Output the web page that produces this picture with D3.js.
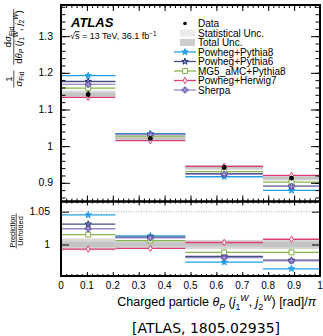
<!DOCTYPE html>
<html>
<head>
<meta charset="utf-8">
<script src="https://cdn.jsdelivr.net/npm/d3@7"></script>
<style>
body { margin: 0; background: #fff; }
text { font-family: "Liberation Sans", Arial, sans-serif; fill: #000; }
</style>
</head>
<body>
<div id="chart"></div>
<script>
// bins of theta_P / pi
var binEdges = [0, 0.21, 0.48, 0.78, 1];
// unfolded data, normalised
var dataValues = [1.141, 1.021, 0.942, 0.913];
// relative uncertainties of the data
var statUnc = [0.004, 0.003, 0.003, 0.004];
var totalUnc = [0.009, 0.006, 0.007, 0.007];
// prediction / unfolded
var ratioPythia8 = [1.045, 1.013, 0.973, 0.963];
var ratioPythia6 = [1.031, 1.011, 0.982, 0.976];
var ratioMG5 = [1.015, 1.006, 0.988, 0.988];
var ratioHerwig7 = [0.993, 0.994, 1.003, 1.008];
var ratioSherpa = [1.024, 1.010, 0.980, 0.975];

var mcNames = ["Powheg+Pythia8", "Powheg+Pythia6", "MG5_aMC+Pythia8", "Powheg+Herwig7", "Sherpa"];
var xTicks = [0, 0.1, 0.2, 0.3, 0.4, 0.5, 0.6, 0.7, 0.8, 0.9, 1];
var yTicksTop = [0.9, 1, 1.1, 1.2, 1.3];
var yTicksRatio = [1, 1.05];

var width = 323, height = 336;

// style table for the predictions
var mc = [
  {name: mcNames[0], ratio: ratioPythia8, line: "#23a0e6", color: "#23a0e6", sym: d3.symbolStar, size: 13, fill: true},
  {name: mcNames[1], ratio: ratioPythia6, line: "#45527f", color: "#27326f", sym: d3.symbolStar, size: 13, fill: false},
  {name: mcNames[2], ratio: ratioMG5, line: "#8ab54e", color: "#80ad44", sym: d3.symbolSquare, size: 24, fill: false},
  {name: mcNames[3], ratio: ratioHerwig7, line: "#de3f78", color: "#de3f78", sym: d3.symbolDiamond, size: 12, fill: false},
  {name: mcNames[4], ratio: ratioSherpa, line: "#9589c8", color: "#6555a8", sym: d3.symbolCross, size: 18, fill: false}
];

var svg = d3.select("#chart").append("svg")
    .attr("width", width)
    .attr("height", height);

var left = 61, right = 320;
var topY0 = 5, topY1 = 201.5, ratY1 = 276;

var x = d3.scaleLinear().domain([0, 1]).range([left, right]);
var y = d3.scaleLinear().domain([0.849, 1.385]).range([topY1, topY0]);
var yr = d3.scaleLinear().domain([0.952, 1.0655]).range([ratY1, topY1]);

var bins = d3.range(dataValues.length).map(function(i) {
  return {i: i, x0: binEdges[i], x1: binEdges[i + 1], xc: (binEdges[i] + binEdges[i + 1]) / 2, v: dataValues[i]};
});

function markerFill(s) {
  return s.fill ? s.color : (s.sym === d3.symbolCross ? "#a79ad6" : (s.sym === d3.symbolStar ? "#8c94c0" : "#fff"));
}

function drawPanel(g, ys, isRatio) {
  // uncertainty bands
  g.selectAll(".tot").data(bins).enter().append("rect")
    .attr("x", function(d) { return x(d.x0); })
    .attr("width", function(d) { return x(d.x1) - x(d.x0); })
    .attr("y", function(d) { var c = isRatio ? 1 : d.v; return ys(c * (1 + totalUnc[d.i])); })
    .attr("height", function(d) { var c = isRatio ? 1 : d.v; return ys(c * (1 - totalUnc[d.i])) - ys(c * (1 + totalUnc[d.i])); })
    .attr("fill", "#d6d6d6");
  g.selectAll(".stat").data(bins).enter().append("rect")
    .attr("x", function(d) { return x(d.x0); })
    .attr("width", function(d) { return x(d.x1) - x(d.x0); })
    .attr("y", function(d) { var c = isRatio ? 1 : d.v; return ys(c * (1 + statUnc[d.i])); })
    .attr("height", function(d) { var c = isRatio ? 1 : d.v; return ys(c * (1 - statUnc[d.i])) - ys(c * (1 + statUnc[d.i])); })
    .attr("fill", "#c4c4c4");

  // prediction lines
  mc.forEach(function(s) {
    g.selectAll(null).data(bins).enter().append("line")
      .attr("x1", function(d) { return x(d.x0); })
      .attr("x2", function(d) { return x(d.x1); })
      .attr("y1", function(d) { return ys(isRatio ? s.ratio[d.i] : s.ratio[d.i] * d.v); })
      .attr("y2", function(d) { return ys(isRatio ? s.ratio[d.i] : s.ratio[d.i] * d.v); })
      .attr("stroke", s.line)
      .attr("stroke-width", 1.3);
  });
  // prediction markers
  mc.forEach(function(s) {
    g.selectAll(null).data(bins).enter().append("path")
      .attr("transform", function(d) { return "translate(" + x(d.xc) + "," + ys(isRatio ? s.ratio[d.i] : s.ratio[d.i] * d.v) + ")"; })
      .attr("d", d3.symbol().type(s.sym).size(s.size))
      .attr("fill", markerFill(s))
      .attr("stroke", s.color)
      .attr("stroke-width", 1);
  });

  if (!isRatio) {
    g.selectAll(".err").data(bins).enter().append("line")
      .attr("x1", function(d) { return x(d.xc); })
      .attr("x2", function(d) { return x(d.xc); })
      .attr("y1", function(d) { return ys(d.v * (1 + totalUnc[d.i])); })
      .attr("y2", function(d) { return ys(d.v * (1 - totalUnc[d.i])); })
      .attr("stroke", "#000").attr("stroke-width", 1);
    g.selectAll(".pt").data(bins).enter().append("circle")
      .attr("cx", function(d) { return x(d.xc); })
      .attr("cy", function(d) { return ys(d.v); })
      .attr("r", 2.4)
      .attr("fill", "#000");
  }
}

var gTop = svg.append("g");
var gRat = svg.append("g");
drawPanel(gTop, y, false);

// dotted reference at 1.05
gRat.append("line")
  .attr("x1", x(0)).attr("x2", x(1))
  .attr("y1", yr(1.05)).attr("y2", yr(1.05))
  .attr("stroke", "#999").attr("stroke-width", 0.8).attr("stroke-dasharray", "1,1.5");
drawPanel(gRat, yr, true);

// ticks
var xMinor = d3.range(0, 1.0001, 0.02);
var yMinorTop = d3.range(0.86, 1.381, 0.02);

function ticks(g, axis, tr) {
  var a = g.append("g").attr("transform", tr).call(axis);
  a.select(".domain").remove();
  a.selectAll("line").attr("stroke", "#000").attr("stroke-width", 1);
  a.selectAll("text").remove();
}
// top panel
ticks(svg, d3.axisBottom(x).tickValues(xTicks).tickSize(-6), "translate(0," + topY1 + ")");
ticks(svg, d3.axisBottom(x).tickValues(xMinor).tickSize(-3), "translate(0," + topY1 + ")");
ticks(svg, d3.axisTop(x).tickValues(xTicks).tickSize(-6), "translate(0," + topY0 + ")");
ticks(svg, d3.axisTop(x).tickValues(xMinor).tickSize(-3), "translate(0," + topY0 + ")");
ticks(svg, d3.axisLeft(y).tickValues(yTicksTop).tickSize(-9), "translate(" + left + ",0)");
ticks(svg, d3.axisLeft(y).tickValues(yMinorTop).tickSize(-4.5), "translate(" + left + ",0)");
ticks(svg, d3.axisRight(y).tickValues(yTicksTop).tickSize(-9), "translate(" + right + ",0)");
ticks(svg, d3.axisRight(y).tickValues(yMinorTop).tickSize(-4.5), "translate(" + right + ",0)");
// ratio panel
ticks(svg, d3.axisBottom(x).tickValues(xTicks).tickSize(-4), "translate(0," + ratY1 + ")");
ticks(svg, d3.axisBottom(x).tickValues(xMinor).tickSize(-2), "translate(0," + ratY1 + ")");
ticks(svg, d3.axisTop(x).tickValues(xTicks).tickSize(-4), "translate(0," + topY1 + ")");
ticks(svg, d3.axisTop(x).tickValues(xMinor).tickSize(-2), "translate(0," + topY1 + ")");
ticks(svg, d3.axisLeft(yr).tickValues(yTicksRatio).tickSize(-8), "translate(" + left + ",0)");
ticks(svg, d3.axisRight(yr).tickValues(yTicksRatio).tickSize(-8), "translate(" + right + ",0)");

// frames
svg.append("rect").attr("x", left).attr("y", topY0).attr("width", right - left).attr("height", topY1 - topY0)
  .attr("fill", "none").attr("stroke", "#000").attr("stroke-width", 2);
svg.append("rect").attr("x", left).attr("y", topY1).attr("width", right - left).attr("height", ratY1 - topY1)
  .attr("fill", "none").attr("stroke", "#000").attr("stroke-width", 2);

// tick labels
svg.selectAll(".yl").data(yTicksTop).enter().append("text")
  .attr("x", 53).attr("y", function(d) { return y(d) + 3.6; })
  .attr("text-anchor", "end").attr("font-size", 10.5)
  .text(function(d) { return d3.format("~g")(d); });
svg.selectAll(".yrl").data(yTicksRatio).enter().append("text")
  .attr("x", 50).attr("y", function(d) { return yr(d) + 3.6; })
  .attr("text-anchor", "end").attr("font-size", 10.5)
  .text(function(d) { return d3.format("~g")(d); });
svg.selectAll(".xl").data(xTicks).enter().append("text")
  .attr("x", function(d) { return x(d); }).attr("y", 289)
  .attr("text-anchor", "middle").attr("font-size", 10)
  .text(function(d) { return d3.format("~g")(d); });

// helper for rich text with sub/superscripts
function rich(t, parts, fs) {
  parts.forEach(function(p) {
    var ts = t.append("tspan").text(p.t);
    if (p.sub) ts.attr("font-size", fs * 0.7).attr("dy", fs * 0.3);
    else if (p.sup) ts.attr("font-size", fs * 0.7).attr("dy", -fs * 0.4);
    else ts.attr("font-size", fs);
    if (p.dy) ts.attr("dy", p.dy);
    if (p.it) ts.attr("font-style", "italic");
  });
}
function fraction(g, cx, numY, lineY, denY, num, den, fs) {
  var tn = g.append("text").attr("x", cx).attr("y", numY).attr("text-anchor", "middle");
  rich(tn, num, fs);
  var td = g.append("text").attr("x", cx).attr("y", denY).attr("text-anchor", "middle");
  rich(td, den, fs);
  var w = Math.max(tn.node().getComputedTextLength(), td.node().getComputedTextLength());
  g.append("line").attr("x1", cx - w / 2 - 1).attr("x2", cx + w / 2 + 1)
    .attr("y1", lineY).attr("y2", lineY).attr("stroke", "#000").attr("stroke-width", 0.7);
}

function jetPair(fs) {
  return [{t: " (", dy: -fs * 0.3},
    {t: "j", it: true}, {t: "1", sub: true}, {t: "W", sup: true, dy: -fs * 0.7, it: true}, {t: ", ", dy: fs * 0.4},
    {t: "j", it: true}, {t: "2", sub: true}, {t: "W", sup: true, dy: -fs * 0.7, it: true}, {t: ")", dy: fs * 0.4}];
}

// y title of top panel
var yt = svg.append("g").attr("transform", "translate(0,46) rotate(-90)");
var fs1 = 9.5;
fraction(yt, -33, 11.5, 13.8, 21.5, [{t: "1"}], [{t: "σ", it: true}, {t: "Fid", sub: true}], fs1);
fraction(yt, 9, 11, 13.8, 21.5,
  [{t: "d"}, {t: "σ", it: true}, {t: "Fid", sub: true}],
  [{t: "d"}, {t: "θ", it: true}, {t: "P", sub: true, it: true}].concat(jetPair(fs1)),
  fs1);

// y title of ratio panel
var yt2 = svg.append("g").attr("transform", "translate(0,231) rotate(-90)");
fraction(yt2, 0, 14.5, 16.2, 22.5, [{t: "Prediction"}], [{t: "Unfolded"}], 7.4);

// x title
var xt = svg.append("text").attr("x", 316).attr("y", 306).attr("text-anchor", "end");
var fsx = 12.5;
rich(xt, [{t: "Charged particle "}, {t: "θ", it: true}, {t: "P", sub: true, it: true}]
  .concat(jetPair(fsx).slice(0, 8))
  .concat([{t: ") [rad]/", dy: fsx * 0.4}, {t: "π", it: true}]), fsx);

// ATLAS label
svg.append("text").attr("x", 71).attr("y", 27.3)
  .attr("font-size", 13).attr("font-weight", "bold").attr("font-style", "italic").text("ATLAS");
var en = svg.append("text").attr("x", 70).attr("y", 39.3).attr("font-size", 9);
en.append("tspan").text("√");
en.append("tspan").text("s").style("text-decoration", "overline");
en.append("tspan").text(" = 13 TeV, 36.1 fb");
en.append("tspan").text("−1").attr("font-size", 6.3).attr("dy", -3.5);

// legend
var lx = 185, ly = 23.5, step = 9.5;
var leg = svg.append("g").attr("font-size", 10);
leg.append("circle").attr("cx", lx).attr("cy", ly).attr("r", 1.8).attr("fill", "#000");
leg.append("text").attr("x", 198).attr("y", ly + 3.6).attr("font-size", 10).text("Data");
leg.append("rect").attr("x", 180).attr("y", ly + step - 3.5).attr("width", 15).attr("height", 7).attr("fill", "#ebebeb");
leg.append("text").attr("x", 198).attr("y", ly + step + 3.6).attr("font-size", 10).text("Statistical Unc.");
leg.append("rect").attr("x", 180).attr("y", ly + 2 * step - 3.5).attr("width", 15).attr("height", 7).attr("fill", "#cdcdcd");
leg.append("text").attr("x", 198).attr("y", ly + 2 * step + 3.6).attr("font-size", 10).text("Total Unc.");
mc.forEach(function(s, k) {
  var yy = ly + (3 + k) * step;
  leg.append("line").attr("x1", 174).attr("x2", 196).attr("y1", yy).attr("y2", yy)
    .attr("stroke", s.line).attr("stroke-width", 1.3);
  leg.append("path").attr("transform", "translate(" + lx + "," + yy + ")")
    .attr("d", d3.symbol().type(s.sym).size(s.size))
    .attr("fill", markerFill(s))
    .attr("stroke", s.color).attr("stroke-width", 1);
  leg.append("text").attr("x", 198).attr("y", yy + 3.6).attr("font-size", 10).text(s.name);
});

// citation
svg.append("text").attr("x", 206).attr("y", 332.5).attr("text-anchor", "middle")
  .attr("font-size", 14).style("font-family", "'DejaVu Sans', sans-serif").text("[ATLAS, 1805.02935]");
</script>
</body>
</html>
